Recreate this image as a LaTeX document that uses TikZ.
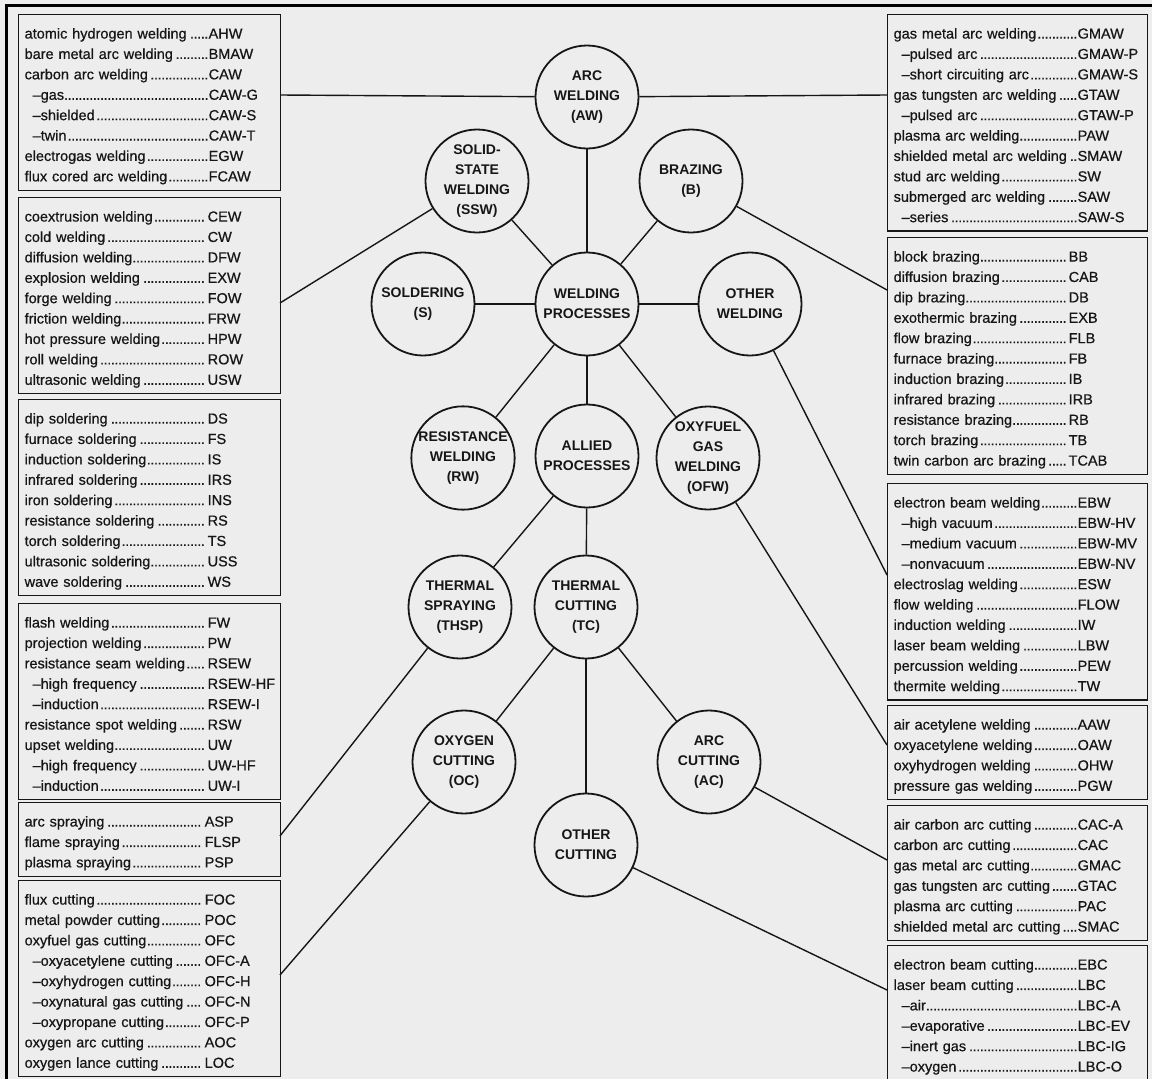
\documentclass[tikz,border=0pt]{standalone}
\usepackage{fontspec}
\setmainfont{Liberation Sans}
\newfontfamily\listfont{Liberation Sans}[RawFeature={embolden=0.6}]
\definecolor{bg}{RGB}{237,237,237}
\definecolor{ink}{RGB}{22,22,22}
\newlength\lcol
\newcommand\dotlead{\leaders\hbox to 3.6pt{\hss.\hss}\hfill}
\newcommand\rw[2]{\par\hbox{\rule[-5.4pt]{0pt}{20.4pt}\makebox[\lcol][l]{#1\dotlead}#2}}
\newcommand\sr[2]{\rw{\hspace*{8pt}–#1}{#2}}
\tikzset{
  proc/.style={circle, draw=ink, line width=1.8pt, fill=bg, minimum size=103pt,
    inner sep=0pt, align=center, text=ink, font=\bfseries\fontsize{14}{20}\selectfont},
  listbox/.style={draw=ink, line width=1.3pt, fill=bg, anchor=north west,
    inner xsep=6pt, inner ysep=3.5pt, text width=#1, text=ink,
    font=\listfont\fontsize{14.5}{20.4}\selectfont},
  conn/.style={draw=ink, line width=1.4pt}
}
\begin{document}
\begin{tikzpicture}[x=1pt,y=-1pt]
\useasboundingbox (0,0) rectangle (1152,1079);
\fill[bg] (0,0) rectangle (1152,1079);
\draw[line width=3pt, black] (6.5,1079) -- (6.5,5.5) -- (1152,5.5);

% ---------- circles ----------
\node[proc] (aw)   at (587,97)  {ARC\\WELDING\\(AW)};
\node[proc] (ssw)  at (477,181) {SOLID-\\STATE\\WELDING\\(SSW)};
\node[proc] (br)   at (691,181) {BRAZING\\(B)};
\node[proc] (sol)  at (423,304) {SOLDERING\\(S)};
\node[proc] (wp)   at (587,304) {WELDING\\PROCESSES};
\node[proc] (ow)   at (750,304) {OTHER\\WELDING};
\node[proc] (rw)   at (463,458) {RESISTANCE\\WELDING\\(RW)};
\node[proc] (ap)   at (587,456) {ALLIED\\PROCESSES};
\node[proc] (ofw)  at (708,458) {OXYFUEL\\GAS\\WELDING\\(OFW)};
\node[proc] (thsp) at (460,607) {THERMAL\\SPRAYING\\(THSP)};
\node[proc] (tc)   at (586,607) {THERMAL\\CUTTING\\(TC)};
\node[proc] (oc)   at (464,762) {OXYGEN\\CUTTING\\(OC)};
\node[proc] (ac)   at (709,762) {ARC\\CUTTING\\(AC)};
\node[proc] (ocut) at (586,845) {OTHER\\CUTTING};

% ---------- left lists ----------
\node[listbox=250pt] (lb1) at (18,14) {\setlength\lcol{184pt}%
\rw{atomic hydrogen welding}{AHW}
\rw{bare metal arc welding}{BMAW}
\rw{carbon arc welding}{CAW}
\sr{gas}{CAW-G}
\sr{shielded}{CAW-S}
\sr{twin}{CAW-T}
\rw{electrogas welding}{EGW}
\rw{flux cored arc welding}{FCAW}};

\node[listbox=250pt] (lb2) at (18,197) {\setlength\lcol{183pt}%
\rw{coextrusion welding}{CEW}
\rw{cold welding}{CW}
\rw{diffusion welding}{DFW}
\rw{explosion welding}{EXW}
\rw{forge welding}{FOW}
\rw{friction welding}{FRW}
\rw{hot pressure welding}{HPW}
\rw{roll welding}{ROW}
\rw{ultrasonic welding}{USW}};

\node[listbox=250pt] (lb3) at (18,399) {\setlength\lcol{183pt}%
\rw{dip soldering}{DS}
\rw{furnace soldering}{FS}
\rw{induction soldering}{IS}
\rw{infrared soldering}{IRS}
\rw{iron soldering}{INS}
\rw{resistance soldering}{RS}
\rw{torch soldering}{TS}
\rw{ultrasonic soldering}{USS}
\rw{wave soldering}{WS}};

\node[listbox=250pt] (lb4) at (18,603) {\setlength\lcol{183pt}%
\rw{flash welding}{FW}
\rw{projection welding}{PW}
\rw{resistance seam welding}{RSEW}
\sr{high frequency}{RSEW-HF}
\sr{induction}{RSEW-I}
\rw{resistance spot welding}{RSW}
\rw{upset welding}{UW}
\sr{high frequency}{UW-HF}
\sr{induction}{UW-I}};

\node[listbox=250pt] (lb5) at (18,802) {\setlength\lcol{180pt}%
\rw{arc spraying}{ASP}
\rw{flame spraying}{FLSP}
\rw{plasma spraying}{PSP}};

\node[listbox=250pt] (lb6) at (18,880) {\setlength\lcol{180pt}%
\rw{flux cutting}{FOC}
\rw{metal powder cutting}{POC}
\rw{oxyfuel gas cutting}{OFC}
\sr{oxyacetylene cutting}{OFC-A}
\sr{oxyhydrogen cutting}{OFC-H}
\sr{oxynatural gas cutting}{OFC-N}
\sr{oxypropane cutting}{OFC-P}
\rw{oxygen arc cutting}{AOC}
\rw{oxygen lance cutting}{LOC}};

% ---------- right lists ----------
\node[listbox=248pt] (rb1) at (887,14) {\setlength\lcol{184pt}%
\rw{gas metal arc welding}{GMAW}
\sr{pulsed arc}{GMAW-P}
\sr{short circuiting arc}{GMAW-S}
\rw{gas tungsten arc welding}{GTAW}
\sr{pulsed arc}{GTAW-P}
\rw{plasma arc welding}{PAW}
\rw{shielded metal arc welding}{SMAW}
\rw{stud arc welding}{SW}
\rw{submerged arc welding}{SAW}
\sr{series}{SAW-S}};

\node[listbox=248pt] (rb2) at (887,237) {\setlength\lcol{175pt}%
\rw{block brazing}{BB}
\rw{diffusion brazing}{CAB}
\rw{dip brazing}{DB}
\rw{exothermic brazing}{EXB}
\rw{flow brazing}{FLB}
\rw{furnace brazing}{FB}
\rw{induction brazing}{IB}
\rw{infrared brazing}{IRB}
\rw{resistance brazing}{RB}
\rw{torch brazing}{TB}
\rw{twin carbon arc brazing}{TCAB}};

\node[listbox=248pt] (rb3) at (887,483) {\setlength\lcol{184pt}%
\rw{electron beam welding}{EBW}
\sr{high vacuum}{EBW-HV}
\sr{medium vacuum}{EBW-MV}
\sr{nonvacuum}{EBW-NV}
\rw{electroslag welding}{ESW}
\rw{flow welding}{FLOW}
\rw{induction welding}{IW}
\rw{laser beam welding}{LBW}
\rw{percussion welding}{PEW}
\rw{thermite welding}{TW}};

\node[listbox=248pt] (rb4) at (887,705) {\setlength\lcol{184pt}%
\rw{air acetylene welding}{AAW}
\rw{oxyacetylene welding}{OAW}
\rw{oxyhydrogen welding}{OHW}
\rw{pressure gas welding}{PGW}};

\node[listbox=248pt] (rb5) at (887,805) {\setlength\lcol{184pt}%
\rw{air carbon arc cutting}{CAC-A}
\rw{carbon arc cutting}{CAC}
\rw{gas metal arc cutting}{GMAC}
\rw{gas tungsten arc cutting}{GTAC}
\rw{plasma arc cutting}{PAC}
\rw{shielded metal arc cutting}{SMAC}};

\node[listbox=248pt] (rb6) at (887,945) {\setlength\lcol{184pt}%
\rw{electron beam cutting}{EBC}
\rw{laser beam cutting}{LBC}
\sr{air}{LBC-A}
\sr{evaporative}{LBC-EV}
\sr{inert gas}{LBC-IG}
\sr{oxygen}{LBC-O}};

% ---------- connector end points on the lists ----------
\coordinate (e1) at (280,95);
\coordinate (e2) at (280,303);
\coordinate (e5) at (280,836);
\coordinate (e6) at (280,975);
\coordinate (f1) at (887,95);
\coordinate (f2) at (887,290);
\coordinate (f3) at (887,575);
\coordinate (f4) at (887,745);
\coordinate (f5) at (887,860);
\coordinate (f6) at (887,990);

% ---------- connectors ----------
\draw[conn] (wp) -- (aw);
\draw[conn] (wp) -- (ssw);
\draw[conn] (wp) -- (br);
\draw[conn] (wp) -- (sol);
\draw[conn] (wp) -- (ow);
\draw[conn] (wp) -- (rw);
\draw[conn] (wp) -- (ap);
\draw[conn] (wp) -- (ofw);
\draw[conn] (ap) -- (thsp);
\draw[conn] (ap) -- (tc);
\draw[conn] (tc) -- (oc);
\draw[conn] (tc) -- (ac);
\draw[conn] (tc) -- (ocut);

\draw[conn] (aw) -- (e1);
\draw[conn] (aw) -- (f1);
\draw[conn] (ssw) -- (e2);
\draw[conn] (thsp) -- (e5);
\draw[conn] (oc) -- (e6);
\draw[conn] (br) -- (f2);
\draw[conn] (ow) -- (f3);
\draw[conn] (ofw) -- (f4);
\draw[conn] (ac) -- (f5);
\draw[conn] (ocut) -- (f6);
\end{tikzpicture}
\end{document}
